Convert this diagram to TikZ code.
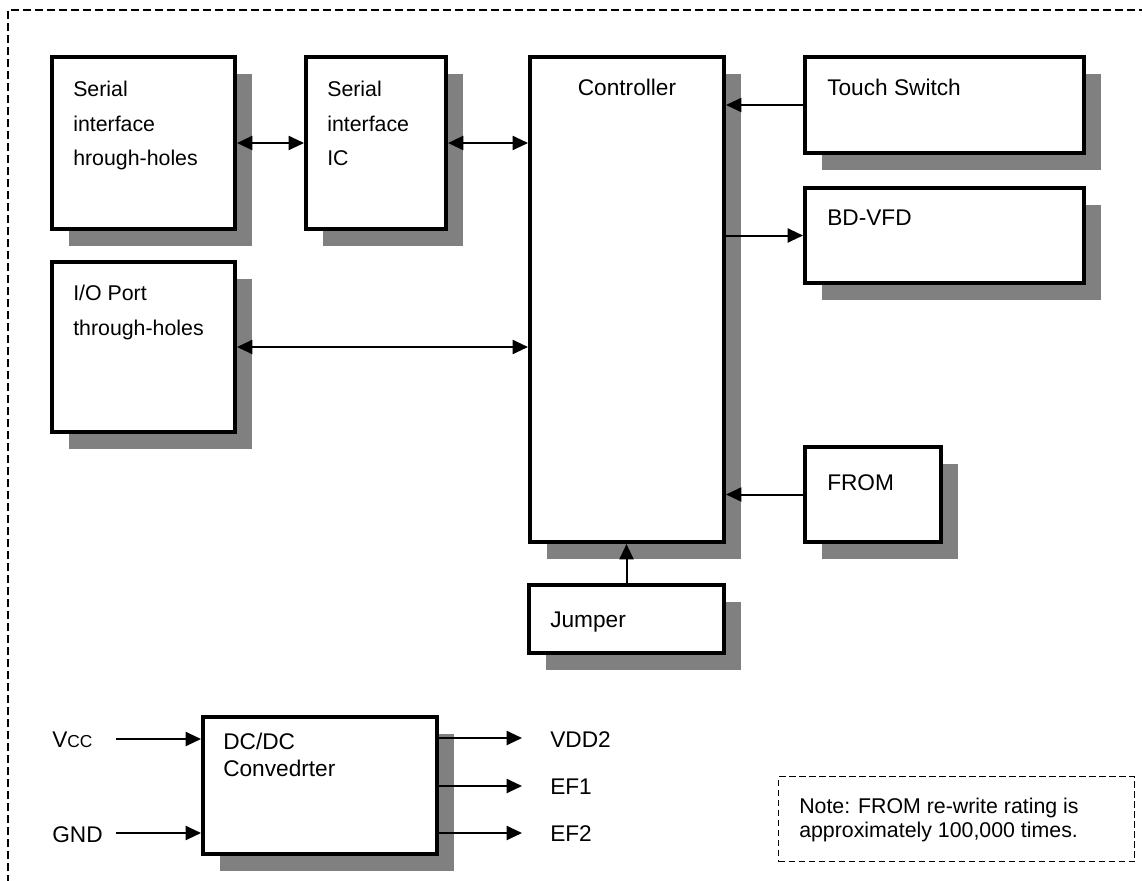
\documentclass[tikz,border=0pt]{standalone}
\usepackage{fontspec}
\setmainfont{Liberation Sans}
\usetikzlibrary{arrows.meta,shadows}
\begin{document}
\begin{tikzpicture}[x=0.75pt,y=-0.75pt,
  blk/.style={draw, line width=3pt, fill=white, anchor=north west, inner sep=0pt,
    drop shadow={shadow xshift=12.5pt, shadow yshift=-12.5pt, fill=black!50, opacity=1}},
  txt/.style={inner sep=0pt, anchor=base west, font=\fontsize{17}{20}\selectfont},
  stxt/.style={inner sep=0pt, anchor=base west, font=\fontsize{16}{19}\selectfont},
  tip/.tip={Triangle[length=11.5pt,width=10.5pt]},
  conn/.style={line width=1.5pt, -tip},
  biconn/.style={line width=1.5pt, tip-tip},
  outerdash/.style={line width=1.1pt, dash pattern=on 6pt off 3pt},
  notebox/.style={draw, line width=1.1pt, dash pattern=on 5pt off 2.5pt, anchor=north west, inner sep=0pt}
]
\useasboundingbox (0,0) rectangle (1142,881);
\draw[outerdash] (8,895) -- (8,10) -- (1150,10);

% blocks
\node[blk, minimum width=137.25pt, minimum height=129pt] (ser) at (50,55) {};
\node[blk, minimum width=105pt, minimum height=129pt] (sic) at (304,55) {};
\node[blk, minimum width=145.5pt, minimum height=363.75pt] (ctl) at (528,55) {};
\node[blk, minimum width=209.25pt, minimum height=72pt] (tsw) at (803,55) {};
\node[blk, minimum width=209.25pt, minimum height=71.25pt] (vfd) at (803,186) {};
\node[blk, minimum width=137.25pt, minimum height=127.5pt] (io) at (50,260) {};
\node[blk, minimum width=102pt, minimum height=71.25pt] (from) at (803,445) {};
\node[blk, minimum width=146.25pt, minimum height=51pt] (jmp) at (527,583) {};
\node[blk, minimum width=175.5pt, minimum height=102.75pt] (dc) at (201,715) {};
\node[notebox, minimum width=267pt, minimum height=63.75pt] (note) at (778,776) {};

% texts
\node[stxt] (t1) at (73,97) {Serial};
\node[stxt] (t2) at (73,131) {interface};
\node[stxt] (t3) at (73,165) {hrough-holes};
\node[stxt] (t4) at (327,96) {Serial};
\node[stxt] (t5) at (327,131) {interface};
\node[stxt] (t6) at (327,165) {IC};
\node[txt, anchor=base] (t7) at (627,95) {Controller};
\node[txt] (t8) at (827,95) {Touch Switch};
\node[txt] (t9) at (827,225) {BD-VFD};
\node[stxt] (t10) at (73,300) {I/O Port};
\node[stxt] (t11) at (73,335) {through-holes};
\node[txt] (t12) at (827,490) {FROM};
\node[txt] (t13) at (550,627) {Jumper};
\node[txt] (t14) at (223,749) {DC/DC};
\node[txt] (t15) at (223,776) {Convedrter};
\node[txt] (vcc) at (52,747) {V{\fontsize{13}{15}\selectfont CC}};
\node[txt] (gnd) at (52,842) {GND};
\node[txt] (vdd2) at (550,747) {VDD2};
\node[txt] (ef1) at (550,794) {EF1};
\node[txt] (ef2) at (550,841) {EF2};
\node[stxt] (n1) at (799,813) {Note: FROM re-write rating is};
\node[stxt] (n2) at (799,837) {approximately 100,000 times.};

% connectors
\draw[biconn] (ser.east) -- (sic.west);
\draw[biconn] (sic.east) -- (ctl.west |- sic.east);
\draw[biconn] (io.east) -- (ctl.west |- io.east);
\draw[conn] (tsw.west) -- (ctl.east |- tsw.west);
\draw[conn] ([xshift=-3pt]ctl.east |- vfd.west) -- (vfd.west);
\draw[conn] (from.west) -- (ctl.east |- from.west);
\draw[conn] (jmp.north) -- (ctl.south -| jmp.north);

\coordinate (vin) at (116,739);
\coordinate (gin) at (116,833);
\draw[conn] (vin) -- (dc.west |- vin);
\draw[conn] (gin) -- (dc.west |- gin);

\coordinate (o1) at (522,738);
\coordinate (o2) at (522,786);
\coordinate (o3) at (522,833);
\draw[conn] (dc.east |- o1) -- (o1);
\draw[conn] (dc.east |- o2) -- (o2);
\draw[conn] (dc.east |- o3) -- (o3);
\end{tikzpicture}
\end{document}
